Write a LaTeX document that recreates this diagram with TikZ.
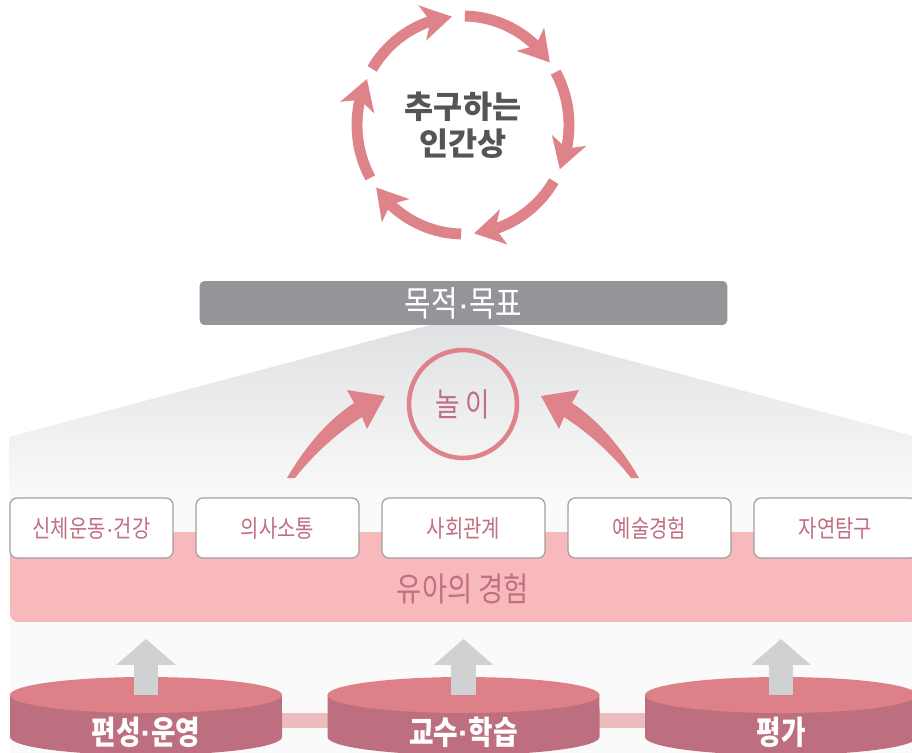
\documentclass[tikz,border=0pt]{standalone}
\usepackage{fontspec}
\setmainfont{Noto Sans CJK KR}
\newfontfamily\narrowkr{Noto Sans CJK KR}[FakeStretch=0.82]
\newfontfamily\latinfont{Liberation Sans}
\usetikzlibrary{arrows.meta,bending}

\newcommand\kdot{{\latinfont ·}}

\definecolor{ringpink}{RGB}{223,131,139}
\definecolor{mauve}{RGB}{192,112,128}
\definecolor{cyltop}{RGB}{221,128,136}
\definecolor{cylside}{RGB}{190,111,127}
\definecolor{linkpink}{RGB}{236,188,190}
\definecolor{bandpink}{RGB}{248,185,189}
\definecolor{goalgray}{RGB}{148,148,153}
\definecolor{arrowgray}{RGB}{208,209,211}
\definecolor{textgray}{RGB}{85,85,85}
\definecolor{fadetop}{RGB}{224,225,227}
\definecolor{fadebot}{RGB}{250,250,250}
\definecolor{boxline}{RGB}{160,160,160}

\begin{document}
\begin{tikzpicture}[x=0.02cm,y=-0.02cm,
  ring arrow/.style={draw=ringpink,line width=6.2pt,
    -{Stealth[length=17pt,width=20pt,inset=4.5pt]}},
  ideal node/.style={align=center,text=textgray,
    font=\bfseries\fontsize{18}{21}\selectfont},
  goal node/.style={fill=goalgray,rounded corners=0.1cm,inner sep=0pt,
    minimum width=10.56cm,minimum height=0.88cm,text=white,
    font=\narrowkr\fontsize{20}{22}\selectfont},
  play node/.style={circle,draw=ringpink,line width=2.6pt,inner sep=0pt,
    minimum size=2.16cm,text=mauve,font=\narrowkr\fontsize{18.5}{20}\selectfont},
  play arrow/.style={fill=ringpink},
  band node/.style={fill=bandpink,rounded corners=0.16cm,inner sep=0pt,
    minimum width=18.14cm,minimum height=1.8cm},
  band text/.style={text=mauve,font=\narrowkr\fontsize{19}{21}\selectfont},
  area node/.style={draw=boxline,fill=white,line width=0.7pt,
    rounded corners=0.14cm,minimum width=3.26cm,minimum height=1.2cm,
    text=mauve,font=\narrowkr\fontsize{13.8}{16}\selectfont},
  cyl node/.style={inner sep=0pt,outer sep=0pt,minimum width=5.44cm,
    minimum height=0.84cm},
  cyl side/.style={fill=cylside},
  cyl top/.style={fill=cyltop},
  cyl text/.style={text=white,font=\narrowkr\bfseries\fontsize{18.5}{20}\selectfont},
  link bar/.style={draw=linkpink,line width=8.5pt},
  up arrow/.style={draw=arrowgray,line width=14.2pt,
    -{Triangle[length=14.7pt,width=32.9pt]}}]

  \useasboundingbox (0,0) rectangle (912,753);
  \fill[white] (0,0) rectangle (912,753);

  % grey fan under the goal bar
  \shade[top color=fadetop,bottom color=fadebot]
    (9,437) -- (430,325) -- (496,325) -- (917,437) -- (917,502) -- (9,502) -- cycle;
  \fill[fadebot] (9,500) rectangle (917,753);

  % cycle round the ideal
  \node[ideal node] (ideal) at (463,125) {추구하는\\인간상};
  \draw[ring arrow] ([shift={(-89:106 and 109)}]ideal.center)
    arc[start angle=-89,end angle=-35,x radius=106,y radius=109];
  \draw[ring arrow] ([shift={(-29:106 and 109)}]ideal.center)
    arc[start angle=-29,end angle=24,x radius=106,y radius=109];
  \draw[ring arrow] ([shift={(31:106 and 109)}]ideal.center)
    arc[start angle=31,end angle=84,x radius=106,y radius=109];
  \draw[ring arrow] ([shift={(91:106 and 109)}]ideal.center)
    arc[start angle=91,end angle=145,x radius=106,y radius=109];
  \draw[ring arrow] ([shift={(151:106 and 109)}]ideal.center)
    arc[start angle=151,end angle=205,x radius=106,y radius=109];
  \draw[ring arrow] ([shift={(211:106 and 109)}]ideal.center)
    arc[start angle=211,end angle=264,x radius=106,y radius=109];

  \node[goal node] (goal) at (463.5,303) {목적\kdot 목표};
  \node[play node] (play) at (463,404) {놀 이};

  % arrows into play
  \fill[play arrow] (287,478) .. controls (305,447) and (328,420) .. (354,403)
    -- (347,390) -- (385,396) -- (367,429) -- (362,417)
    .. controls (337,433) and (313,455) .. (295,478) -- cycle;
  \fill[play arrow] (639,478) .. controls (621,447) and (598,420) .. (572,403)
    -- (579,390) -- (541,396) -- (559,429) -- (564,417)
    .. controls (589,433) and (613,455) .. (631,478) -- cycle;

  \node[band node] (band) at (463.5,577) {};
  \node[band text] (exp) at (463,589) {유아의 경험};

  \node[area node] (b1) at (91.5,528) {신체운동\kdot 건강};
  \node[area node] (b2) at (277.5,528) {의사소통};
  \node[area node] (b3) at (463.5,528) {사회관계};
  \node[area node] (b4) at (649.5,528) {예술경험};
  \node[area node] (b5) at (835.5,528) {자연탐구};

  % cylinders
  \node[cyl node] (cyl1) at (146,716) {};
  \node[cyl node] (cyl2) at (463.5,716) {};
  \node[cyl node] (cyl3) at (781,716) {};
  \draw[link bar] ([yshift=-0.09cm]cyl1.east) -- ([yshift=-0.09cm]cyl2.west);
  \draw[link bar] ([yshift=-0.09cm]cyl2.east) -- ([yshift=-0.09cm]cyl3.west);
  \fill[cyl side] (cyl1.north west) -- (cyl1.south west)
    arc[start angle=180,end angle=0,x radius=136,y radius=18] -- (cyl1.north east) -- cycle;
  \fill[cyl top] (cyl1.north) ellipse[x radius=136,y radius=18];
  \fill[cyl side] (cyl2.north west) -- (cyl2.south west)
    arc[start angle=180,end angle=0,x radius=136,y radius=18] -- (cyl2.north east) -- cycle;
  \fill[cyl top] (cyl2.north) ellipse[x radius=136,y radius=18];
  \fill[cyl side] (cyl3.north west) -- (cyl3.south west)
    arc[start angle=180,end angle=0,x radius=136,y radius=18] -- (cyl3.north east) -- cycle;
  \fill[cyl top] (cyl3.north) ellipse[x radius=136,y radius=18];
  \node[cyl text] (org) at ([yshift=-0.32cm]cyl1.center) {편성\kdot 운영};
  \node[cyl text] (teach) at ([yshift=-0.32cm]cyl2.center) {교수\kdot 학습};
  \node[cyl text] (eval) at ([yshift=-0.32cm]cyl3.center) {평가};

  \draw[up arrow] (cyl1.north) -- ++(0,-56);
  \draw[up arrow] (cyl2.north) -- ++(0,-56);
  \draw[up arrow] (cyl3.north) -- ++(0,-56);

\end{tikzpicture}
\end{document}
